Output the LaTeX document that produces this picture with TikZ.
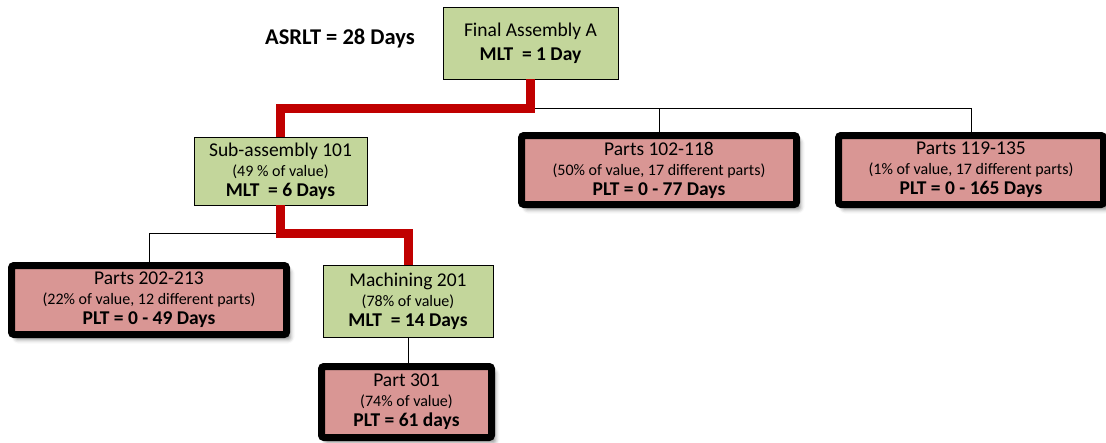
\documentclass[tikz,border=0pt]{standalone}
\usepackage{fontspec}
\setmainfont{Carlito}
\usetikzlibrary{shadows.blur}

\definecolor{greenfill}{HTML}{C3D69B}
\definecolor{pinkfill}{HTML}{D99694}
\definecolor{critred}{HTML}{C00000}

\newcommand{\bigtxt}{\fontsize{19.5}{20}\selectfont}
\newcommand{\smalltxt}{\fontsize{16}{20}\selectfont}

\tikzset{
  greenbox/.style={draw=black, line width=1pt, fill=greenfill, inner sep=0pt,
    outer sep=0pt, align=center, font=\bigtxt},
  pinkbox/.style={draw=black, line width=7pt, rounded corners=2.5pt, fill=pinkfill,
    inner sep=0pt, outer sep=0pt, align=center, font=\bigtxt,
    blur shadow={shadow xshift=4pt, shadow yshift=-5pt, shadow blur radius=4pt,
      shadow opacity=45}},
  critpath/.style={draw=critred, line width=9pt, line join=miter},
  link/.style={draw=black, line width=1pt},
}

\begin{document}
\begin{tikzpicture}[x=1pt, y=1pt]
\useasboundingbox (0,0) rectangle (1106,-442);

% lead time headline
\node[font=\fontsize{22.5}{24}\selectfont\bfseries] (asrlt) at (340,-38) {ASRLT = 28 Days};

% connectors (drawn first so the boxes sit on top)
\coordinate (busA) at (530.5,-108);
\coordinate (busB) at (280.5,-233);

% bill of materials boxes
\node[greenbox, minimum width=175, minimum height=72,
  font=\fontsize{19.5}{24}\selectfont] (fa) at (530.5,-43)
  {Final Assembly A\\\textbf{MLT\ \ = 1 Day}};

\node[greenbox, minimum width=173, minimum height=68] (sub) at (280.5,-171)
  {Sub-assembly 101\\{\smalltxt (49 \% of value)}\\\textbf{MLT\ \ = 6 Days}};

\node[pinkbox, minimum width=275, minimum height=69] (p102) at (659,-170)
  {Parts 102-118\\{\smalltxt (50\% of value, 17 different parts)}\\\textbf{PLT = 0 - 77 Days}};

\node[pinkbox, minimum width=265, minimum height=69] (p119) at (971,-170)
  {Parts 119-135\\{\smalltxt (1\% of value, 17 different parts)}\\\textbf{PLT = 0 - 165 Days}};

\node[pinkbox, minimum width=275, minimum height=69] (p202) at (149,-300)
  {Parts 202-213\\{\smalltxt (22\% of value, 12 different parts)}\\\textbf{PLT = 0 - 49 Days}};

\node[greenbox, minimum width=170, minimum height=72] (mach) at (408,-301)
  {Machining 201\\{\smalltxt (78\% of value)}\\\textbf{MLT\ \ = 14 Days}};

\node[pinkbox, minimum width=170, minimum height=71] (p301) at (406.5,-402)
  {Part 301\\{\smalltxt (74\% of value)}\\\textbf{PLT = 61 days}};

% thin links to purchased parts
\draw[link] (busA) -| (p119.north);
\draw[link] (p102.north |- busA) -- (p102.north);
\draw[link] (busB) -| (p202.north);
\draw[link] (mach.south) -- (mach.south |- p301.north);

% critical path
\draw[critpath] (fa.south) -- (busA) -| (sub.north);
\draw[critpath] (sub.south) -- (busB) -| (mach.north);
\end{tikzpicture}
\end{document}
